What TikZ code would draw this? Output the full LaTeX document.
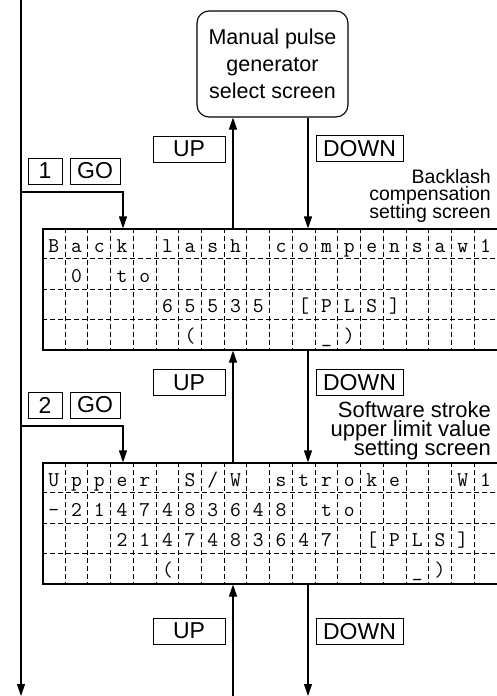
\documentclass[tikz,border=0pt]{standalone}
\usepackage{fontspec}
\newfontfamily\labelsf{Liberation Sans}
\usetikzlibrary{arrows.meta,positioning,calc}

\begin{document}
\begin{tikzpicture}[
  x=1pt, y=-1pt,
  arr/.style={draw,-{Triangle[length=12pt,width=8pt]},line width=1.1pt},
  key/.style={rectangle, draw, line width=1pt, inner sep=0pt,
              minimum height=26pt, font=\labelsf\fontsize{23}{23}\selectfont},
  pgen/.style={rectangle, draw, rounded corners=12pt, line width=1.1pt,
               minimum width=151pt, minimum height=106pt, align=center,
               font=\labelsf\fontsize{21.5}{27}\selectfont},
  lcd/.style={rectangle, draw, line width=1.1pt, inner sep=0pt,
              minimum width=454.4pt, minimum height=121pt},
  cell/.style={dash pattern=on 5pt off 3pt, line width=0.9pt},
  lcdch/.style={anchor=base, inner sep=0pt,
                font=\ttfamily\fontsize{21}{21}\selectfont},
  scrtitle/.style={anchor=north east, inner sep=0pt, align=right},
  node distance=7pt
]
\useasboundingbox (0,0) rectangle (497,696);

% screens
\node[pgen] (mpg) at (272.5,64) {Manual pulse\\generator\\select screen};
\node[lcd] (lcdA) at (270.2,289.5) {};
\node[lcd] (lcdB) at (270.2,523.5) {};

\foreach \g in {lcdA,lcdB} {
  \foreach \c in {1,...,19}
    \draw[cell] ($(\g.north west)+(\c*22.72,0)$) -- ($(\g.south west)+(\c*22.72,0)$);
  \foreach \r in {1,2,3}
    \draw[cell] ($(\g.north west)+(0,\r*30.25)$) -- ($(\g.north east)+(0,\r*30.25)$);
}

% screen contents
\foreach \txt [count=\r from 0] in {{B,a,c,k,,l,a,s,h,,c,o,m,p,e,n,s,a,w,1},
    {,0,,t,o},{,,,,,6,5,5,3,5,,[,P,L,S,]},{,,,,,,{(},,,,,,\_,{)}}}
  \foreach \ch [count=\c from 0] in \txt
    \node[lcdch] at ($(lcdA.north west)+(\c*22.72+11.36,\r*30.25+23.6)$) {\ch};
\foreach \txt [count=\r from 0] in {{U,p,p,e,r,,S,/,W,,s,t,r,o,k,e,,,W,1},
    {\textendash,2,1,4,7,4,8,3,6,4,8,,t,o},{,,,2,1,4,7,4,8,3,6,4,7,,[,P,L,S,]},
    {,,,,,{(},,,,,,,,,,,\_,{)}}}
  \foreach \ch [count=\c from 0] in \txt
    \node[lcdch] at ($(lcdB.north west)+(\c*22.72+11.36,\r*30.25+23.6)$) {\ch};

% screen titles
\node[scrtitle, font={\labelsf\fontsize{19.5}{17.5}\selectfont\lineskiplimit-30pt\relax}]
  (capA) at (491,169) {Backlash\\compensation\\setting screen};
\node[scrtitle, font={\labelsf\fontsize{22}{19}\selectfont\lineskiplimit-30pt\relax}]
  (capB) at (491,401) {Software stroke\\upper limit value\\setting screen};

% keys
\node[key, minimum width=34pt] (keyA) at (45,171) {1};
\node[key, minimum width=50pt, right=of keyA] (goA) {GO};
\node[key, minimum width=34pt] (keyB) at (45,405) {2};
\node[key, minimum width=50pt, right=of keyB] (goB) {GO};
\node[key, minimum width=72pt] (upA) at (189,149) {UP};
\node[key, minimum width=87pt] (dnA) at (359.5,148.5) {DOWN};
\node[key, minimum width=72pt] (upB) at (189,382.5) {UP};
\node[key, minimum width=87pt] (dnB) at (359.5,382.5) {DOWN};
\node[key, minimum width=72pt] (upC) at (189,631) {UP};
\node[key, minimum width=87pt] (dnC) at (359.5,631.5) {DOWN};

% flow lines
\coordinate (trunkTop) at (21,0);
\coordinate (trunkEnd) at (21,696);
\coordinate (jA) at (21,192);
\coordinate (jB) at (21,426);
\coordinate (colGo) at (123,0);
\coordinate (colUp) at (233,0);
\coordinate (colDn) at (308,0);
\coordinate (upEnd) at (233,696);
\coordinate (dnEnd) at (308,696);

\draw[arr] (trunkTop) -- (trunkEnd);
\draw[arr] (jA) -| (lcdA.north -| colGo);
\draw[arr] (jB) -| (lcdB.north -| colGo);
\draw[arr] (lcdA.north -| colUp) -- (mpg.south -| colUp);
\draw[arr] (mpg.south -| colDn) -- (lcdA.north -| colDn);
\draw[arr] (lcdB.north -| colUp) -- (lcdA.south -| colUp);
\draw[arr] (lcdA.south -| colDn) -- (lcdB.north -| colDn);
\draw[arr] (upEnd) -- (lcdB.south -| colUp);
\draw[arr] (lcdB.south -| colDn) -- (dnEnd);
\end{tikzpicture}
\end{document}
